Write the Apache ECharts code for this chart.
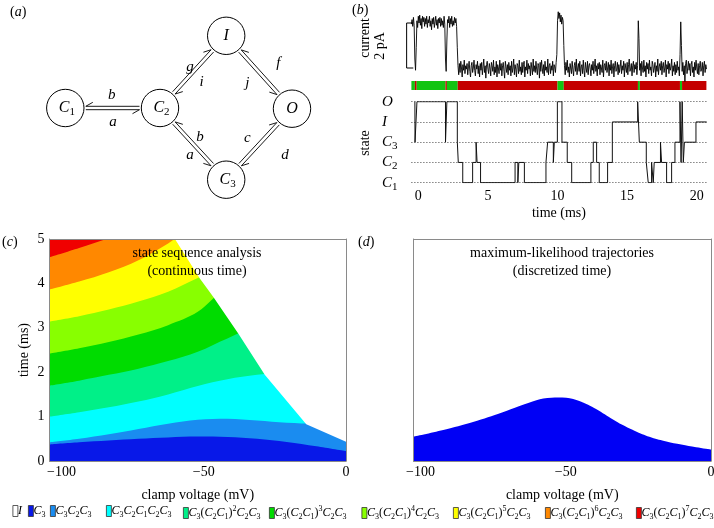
<!DOCTYPE html>
<html><head><meta charset="utf-8">
<script src="https://cdn.jsdelivr.net/npm/echarts@6/dist/echarts.min.js"></script>
<style>html,body{margin:0;padding:0;background:#fff}#c{width:714px;height:528px}</style>
</head><body><div id="c"></div>
<script>
// ================= DATA =================
// (b) current trace, sampled every 0.05 ms from -0.5 ms (pA)
const currentStart = -0.5, currentStep = 0.05;
const currentPA = [
 1.95,2.15,1.85,2.25,1.9,0.4,-0.1,0.9,2.1,1.8,2.3,2.0,2.35,1.9,2.2,1.75,2.3,2.05,2.25,1.85,
 2.2,1.95,2.3,1.8,2.15,2.0,2.3,1.85,2.1,1.7,2.2,1.95,2.25,1.8,2.05,2.3,1.9,2.15,1.75,2.2,
 2.0,2.25,1.85,2.2,1.9,2.1,1.8,2.3,1.95,0.4,-0.15,1.2,2.15,2.0,2.3,1.8,2.2,1.95,2.3,1.85,
 2.1,1.9,2.25,2.0,2.2,1.85,0.9,0.1,-0.3,0.2,-0.2,0.3,0.0,-0.4,0.15,-0.1,0.35,-0.25,0.1,-0.05,
 0.2,-0.3,0.05,0.3,-0.15,-0.4,0.1,0.25,-0.2,0.0,0.35,-0.1,-0.35,0.15,-0.05,0.3,-0.25,0.1,-0.4,0.2,
 -0.1,0.25,-0.3,0.05,0.4,-0.2,0.1,-0.45,0.15,0.3,-0.05,-0.25,0.2,0.0,-0.35,0.25,0.1,-0.15,0.35,-0.3,
 0.05,-0.2,0.3,-0.4,0.15,0.0,-0.25,0.35,-0.1,0.2,-0.35,0.1,0.25,-0.15,-0.45,0.3,0.05,-0.2,0.15,-0.3,
 0.25,-0.1,0.1,-0.35,0.3,-0.2,0.0,0.4,-0.3,0.15,-0.05,-0.4,0.2,0.1,-0.25,0.35,-0.15,0.05,-0.3,0.25,
 -0.2,0.15,0.3,-0.4,0.05,-0.1,0.35,-0.25,0.2,-0.05,0.1,-0.35,0.25,0.0,-0.3,0.4,-0.15,0.1,-0.2,0.3,
 -0.05,-0.3,0.2,0.1,-0.45,0.25,-0.15,0.35,0.0,-0.25,0.15,-0.35,0.3,-0.1,0.05,-0.2,0.4,-0.3,0.1,0.2,
 -0.25,0.1,-0.1,0.3,-0.35,0.15,0.05,-0.2,0.25,0.6,2.1,2.5,2.2,2.45,2.05,2.35,1.95,2.25,2.1,1.0,
 0.1,-0.3,0.25,-0.1,0.35,-0.2,0.05,-0.4,0.2,0.15,-0.25,0.3,-0.05,-0.35,0.1,0.25,-0.15,0.4,-0.3,0.0,
 0.2,-0.15,0.3,-0.35,0.05,0.15,-0.25,0.35,-0.1,-0.4,0.25,0.0,-0.2,0.3,-0.3,0.1,0.2,-0.05,-0.35,0.15,
 -0.1,0.3,-0.25,0.05,0.4,-0.15,0.1,-0.35,0.2,-0.05,0.25,-0.3,0.15,0.0,-0.2,0.35,-0.4,0.1,0.2,-0.1,
 0.3,-0.2,0.0,0.25,-0.35,0.15,-0.1,0.35,-0.25,0.05,0.2,-0.4,0.1,0.3,-0.15,-0.05,0.25,-0.3,0.15,-0.2,
 0.05,0.35,-0.25,0.1,-0.1,0.3,-0.4,0.2,0.0,-0.2,0.25,-0.3,0.15,0.4,-0.15,-0.05,0.2,-0.35,0.1,0.3,
 -0.2,0.15,-0.05,0.25,-0.3,0.1,2.1,1.3,-0.1,0.2,-0.35,0.3,0.0,-0.2,0.35,-0.15,0.1,-0.4,0.25,-0.05,
 0.2,-0.25,0.35,-0.1,0.05,-0.35,0.3,0.15,-0.2,0.0,0.25,-0.4,0.1,-0.15,0.4,-0.3,0.05,0.2,-0.1,0.3,
 -0.3,0.1,0.25,-0.2,0.0,0.35,-0.4,0.15,-0.05,0.3,-0.25,0.2,-0.1,0.05,0.4,-0.35,0.1,-0.15,0.25,-0.3,
 0.15,-0.2,0.3,-0.1,0.05,-0.35,0.6,2.05,1.0,-0.15,0.25,-0.3,0.1,-0.6,0.2,0.35,-0.25,0.0,0.3,-0.1,
 0.2,-0.35,0.15,0.3,-0.2,0.05,-0.4,0.25,-0.1,0.35,0.0,-0.25,0.2,-0.3,0.1,0.3,-0.15,-0.05,0.25,-0.35,
 0.1,0.3,-0.2,0.15,-0.05
];
const scaleBarPA = [0, 2];
// (b) state sequence: 0=C1, 1=C2, 2=C3, 3=I, 4=O
const stateNames = ['C_1','C_2','C_3','I','O'];
const stateTimes = [-0.25,-0.24,-0.10,1.95,2.05,2.80,2.87,3.19,3.90,4.15,4.22,4.47,6.95,7.15,7.22,7.62,
  9.17,9.29,9.70,9.77,9.99,10.32,10.70,11.02,12.40,12.57,12.81,13.00,13.60,13.94,15.76,15.88,16.38,16.52,
  16.76,16.88,16.95,17.40,17.48,17.84,18.20,18.44,18.80,18.88,18.96,19.04,19.12,19.95];
const stateValues = [4,2,4,2,4,2,1,0,1,2,1,0,1,0,1,0,
  1,2,1,2,4,2,1,0,1,2,1,0,1,3,4,2,1,0,
  1,0,1,2,1,0,1,2,4,1,4,1,2,3];
const stateEnd = 20.72;
// (b) conducting / non-conducting bar
const barStarts = [-0.5,-0.25,-0.12,1.95,2.05,2.83,10.0,10.45,15.78,15.92,18.8,18.95];
const barOpen   = [1,0,1,0,1,0,1,0,1,0,1,0];
const barEnd = 20.7;
const timeTicks = [0,5,10,15,20];

// (c) band boundaries (time, ms) vs clamp voltage (mV)
const voltage = [-100,-90,-80,-70,-60,-50,-40,-30,-20,-10,0];
const topC3        = [0.37,0.42,0.46,0.50,0.53,0.55,0.54,0.50,0.43,0.33,0.22];
const topC3C2C3    = [0.42,0.50,0.60,0.72,0.84,0.93,0.95,0.91,0.86,0.84,0.84];
const topC3C2C1C2C3= [1.00,1.10,1.21,1.34,1.50,1.69,1.84,1.94,1.98,2.00,2.00];
const topPow2      = [1.70,1.81,1.94,2.08,2.25,2.46,2.76,3.00,3.00,3.00,3.00];
const topPow3      = [2.42,2.54,2.68,2.85,3.06,3.36,3.90,4.00,4.00,4.00,4.00];
const topPow4      = [3.14,3.26,3.41,3.59,3.81,4.12,4.40,4.50,4.50,4.50,4.50];
const topPow5      = [3.86,4.04,4.25,4.52,4.90,5.30,5.30,5.30,5.30,5.30,5.30];
const topPow6      = [4.59,4.80,5.02,5.30,5.30,5.30,5.30,5.30,5.30,5.30,5.30];
const topPow7      = [5,5,5,5,5,5,5,5,5,5,5];
// (c) boundary of the I region (upper right, white)
const iVoltage = [-57.7,-49.3,-44.8,-36.4,-27.4,-13.4,0];
const iTime    = [5.0,4.11,3.70,2.88,1.94,0.83,0.435];
// (d) maximum-likelihood C3 region
const dVoltage = [-100,-90,-80,-70,-60,-55,-50,-45,-40,-35,-30,-25,-20,-15,-10,-5,0];
const dTime    = [0.55,0.70,0.88,1.10,1.34,1.42,1.43,1.37,1.22,1.02,0.82,0.66,0.53,0.44,0.37,0.31,0.26];

// legend names (markup: _ subscript, ^ superscript)
const bandNames = ['C_3','C_3C_2C_3','C_3C_2C_1C_2C_3','C_3(C_2C_1)^2C_2C_3','C_3(C_2C_1)^3C_2C_3',
  'C_3(C_2C_1)^4C_2C_3','C_3(C_2C_1)^5C_2C_3','C_3(C_2C_1)^6C_2C_3','C_3(C_2C_1)^7C_2C_3'];
const bandTops = [topC3, topC3C2C3, topC3C2C1C2C3, topPow2, topPow3, topPow4, topPow5, topPow6, topPow7];

// ================= STYLE =================
const SERIF = "'Liberation Serif','DejaVu Serif','Times New Roman',serif";
const bandColors = ['#0818e8','#1a8cf0','#00ffff','#00f088','#00dc00','#88ff00','#ffff00','#ff8800','#f00000'];
const dColor = '#0000f5';
const frameColor = '#8a8a8a';
const legendX = [12.5,28,50,106,183,269,361.5,453,545,636];

function richName(s){
  let out='';
  for(let i=0;i<s.length;i++){
    const ch=s[i];
    if(ch==='_'){out+='{s|'+s[++i]+'}';}
    else if(ch==='^'){out+='{u|'+s[++i]+'}';}
    else if(ch==='('||ch===')'){out+='{p|'+ch+'}';}
    else out+='{m|'+ch+'}';
  }
  return out;
}
function richStyles(size){
  const sub=Math.round(size*0.7);
  return {
    m:{fontFamily:SERIF,fontStyle:'italic',fontSize:size,lineHeight:size+4,color:'#000'},
    p:{fontFamily:SERIF,fontSize:size,lineHeight:size+4,color:'#000'},
    s:{fontFamily:SERIF,fontSize:sub,lineHeight:sub,verticalAlign:'bottom',color:'#000'},
    u:{fontFamily:SERIF,fontSize:sub,lineHeight:sub,verticalAlign:'top',color:'#000'}
  };
}
const minus = v => String(v).replace('-', '\u2212');

// ================= LAYOUT =================
const G_C = {left:49.5, top:239, width:296.5, height:222};
const G_D = {left:413.5, top:239, width:297.5, height:222};
const G_CUR = {left:404.4, top:9.5, width:302.1, height:72};
const G_BAR = {left:411.4, top:81, width:295, height:9};
const G_ST = {left:411.4, top:101.7, width:295, height:81};

function frameAxis(gridIndex, isX){
  return {gridIndex, type:'value', min: isX?-100:0, max: isX?0:5, position: isX?'top':'right', z:10,
     axisLine:{show:true,onZero:false,lineStyle:{color:frameColor,width:1}}, axisTick:{show:false},
     axisLabel:{show:false}, splitLine:{show:false}};
}
const voltAxis = (gridIndex, shifts) => ({
  gridIndex, type:'value', min:-100, max:0, interval:50, position:'bottom', z:10,
  axisLine:{show:true,onZero:false,lineStyle:{color:frameColor,width:1}}, axisTick:{show:false},
  splitLine:{show:false},
  axisLabel:{margin:4, formatter: v => '{t'+Math.abs(v)+'|'+minus(v)+'}',
    rich:{
      t100:{fontFamily:SERIF,fontSize:14,color:'#000',padding:[0,0,0,shifts[0]]},
      t50:{fontFamily:SERIF,fontSize:14,color:'#000',padding:[0,0,0,shifts[1]]},
      t0:{fontFamily:SERIF,fontSize:14,color:'#000'}
    }},
  name:'clamp voltage (mV)', nameLocation:'middle', nameGap:27,
  nameTextStyle:{fontFamily:SERIF, fontSize:14, color:'#000'}
});

// ================= DIAGRAM (a) =================
const nodes = {C1:[65.3,108], C2:[160,108], I:[226.2,35.8], O:[292,108.7], C3:[226.2,179.7]};
const R = 18.7;
const pairs = [
  ['C1','C2',1],['C2','I',-1],['I','O',1],['C2','C3',1],['C3','O',-1]
];
const arrowLabels = [
  ['b',111.7,95],['a',113,122.5],['g',190,66.7],['i',201.7,81.7],['f',278.3,63.3],['j',247.3,83.3],
  ['b',200,136.7],['a',190,155],['c',247.3,138.3],['d',285,155]
];
const graphics = [];
pairs.forEach(([a,b,s])=>{
  const A=nodes[a], B=nodes[b];
  const dx=B[0]-A[0], dy=B[1]-A[1], L=Math.hypot(dx,dy), ux=dx/L, uy=dy/L, nx=-uy, ny=ux;
  const off=1.7, gap=R+1.8, bl=7, bw=4;
  const P=(base,k,side)=>[base[0]+ux*k+nx*off*side, base[1]+uy*k+ny*off*side];
  const p0=P(A,gap,s), p1=P(B,-gap,s);
  const fb=[p1[0]-ux*bl+nx*s*bw, p1[1]-uy*bl+ny*s*bw];
  const q0=P(A,gap,-s), q1=P(B,-gap,-s);
  const bb=[q0[0]+ux*bl-nx*s*bw, q0[1]+uy*bl-ny*s*bw];
  graphics.push({type:'polyline',silent:true,shape:{points:[p0,p1,fb]},style:{stroke:'#000',lineWidth:0.9,fill:null}});
  graphics.push({type:'polyline',silent:true,shape:{points:[q1,q0,bb]},style:{stroke:'#000',lineWidth:0.9,fill:null}});
});
const nodeText = {C1:'{m|C}{s|1}', C2:'{m|C}{s|2}', I:'{m|I}', O:'{m|O}', C3:'{m|C}{s|3}'};
Object.keys(nodes).forEach(k=>{
  const c=nodes[k];
  graphics.push({type:'circle',silent:true,shape:{cx:c[0],cy:c[1],r:R},style:{stroke:'#000',lineWidth:1,fill:'#fff'}});
  graphics.push({type:'text',silent:true,x:c[0]+(k.length>1?1.5:0),y:c[1],z:5,
    style:{text:nodeText[k],rich:richStyles(16),align:'center',verticalAlign:'middle'}});
});
arrowLabels.forEach(([t,x,y])=>{
  graphics.push({type:'text',silent:true,x,y,style:{text:t,font:'italic 15px '+SERIF,fill:'#000',align:'center',verticalAlign:'middle'}});
});
// panel letters
[['a',10,12],['b',352,10],['c',2,242],['d',358,242]].forEach(([l,x,y])=>{
  graphics.push({type:'text',silent:true,x,y,style:{text:'{p|(}{m|'+l+'}{p|)}',rich:richStyles(14),align:'left',verticalAlign:'middle'}});
});
// panel (b) axis texts
graphics.push({type:'text',silent:true,x:365,y:38,rotation:Math.PI/2,style:{text:'current',font:'14px '+SERIF,fill:'#000',align:'center',verticalAlign:'middle'}});
graphics.push({type:'text',silent:true,x:380,y:46,rotation:Math.PI/2,style:{text:'2 pA',font:'14px '+SERIF,fill:'#000',align:'center',verticalAlign:'middle'}});
graphics.push({type:'text',silent:true,x:365,y:143,rotation:Math.PI/2,style:{text:'state',font:'14px '+SERIF,fill:'#000',align:'center',verticalAlign:'middle'}});
// panel titles
[['state sequence analysis',197,253],['(continuous time)',197,271],
 ['maximum-likelihood trajectories',562,253],['(discretized time)',562,271]].forEach(([t,x,y])=>{
  graphics.push({type:'text',silent:true,x,y,z:50,style:{text:t,font:'14px '+SERIF,fill:'#000',align:'center',verticalAlign:'middle'}});
});

// ================= SERIES =================
const series = [];
for(let k=bandNames.length-1;k>=0;k--){
  series.push({name:bandNames[k], type:'line', xAxisIndex:0, yAxisIndex:0, symbol:'none', smooth:0.35,
    data: voltage.map((v,i)=>[v,bandTops[k][i]]), lineStyle:{width:0}, itemStyle:{color:bandColors[k]},
    areaStyle:{color:bandColors[k],opacity:1,origin:'start'}, silent:true, z:2});
}
series.push({name:'I', type:'line', xAxisIndex:0, yAxisIndex:0, symbol:'none',
  data: iVoltage.map((v,i)=>[v,iTime[i]]), lineStyle:{width:0}, itemStyle:{color:'#fff'},
  areaStyle:{color:'#fff',opacity:1,origin:'end'}, silent:true, z:3});
series.push({name:'C_3', type:'line', xAxisIndex:2, yAxisIndex:2, symbol:'none', smooth:0.4,
  data: dVoltage.map((v,i)=>[v,dTime[i]]), lineStyle:{width:0}, itemStyle:{color:dColor},
  areaStyle:{color:dColor,opacity:1,origin:'start'}, silent:true, z:2});
series.push({name:'current', type:'line', xAxisIndex:4, yAxisIndex:4, symbol:'none',
  data: currentPA.map((v,i)=>[currentStart+i*currentStep, v]), lineStyle:{color:'#000',width:0.9}, silent:true});
series.push({name:'scalebar', type:'line', xAxisIndex:4, yAxisIndex:4, symbol:'none',
  data:[[-0.36,scaleBarPA[0]],[-0.84,scaleBarPA[0]],[-0.84,scaleBarPA[1]],[-0.36,scaleBarPA[1]]],
  lineStyle:{color:'#000',width:1}, silent:true});
series.push({name:'bar', type:'custom', xAxisIndex:5, yAxisIndex:5, silent:true,
  data: barStarts.map((s,i)=>[s, i<barStarts.length-1?barStarts[i+1]:barEnd, barOpen[i]]),
  encode:{x:[0,1]},
  renderItem:(params,api)=>{
    const a=api.coord([api.value(0),0]), b=api.coord([api.value(1),1]);
    return {type:'rect',shape:{x:a[0],y:b[1],width:b[0]-a[0],height:a[1]-b[1]},
      style:{fill: api.value(2)?'#12c412':'#c40000'}};
  }});
const stData = stateTimes.map((t,i)=>[t,stateValues[i]]);
stData.push([stateEnd, stateValues[stateValues.length-1]]);
series.push({name:'state', type:'line', xAxisIndex:6, yAxisIndex:6, symbol:'none', step:'end',
  data: stData, lineStyle:{color:'#111',width:1}, silent:true, z:5});

// ================= LEGEND =================
const legendNames = ['I'].concat(bandNames);
const legendColors = ['#ffffff'].concat(bandColors);
const legends = legendNames.map((n,i)=>({
  show:true, left:legendX[i], top:505, padding:0, selectedMode:false, itemGap:0,
  icon:'rect', itemWidth:5, itemHeight:11,
  data:[{name:n, itemStyle:{color:legendColors[i], borderColor:'#333', borderWidth:0.8}}],
  formatter: name => richName(name),
  textStyle:{rich:richStyles(12), padding:[0,0,0,-5]}
}));

const option = {
  animation:false,
  backgroundColor:'#fff',
  grid:[G_C,G_D,G_CUR,G_BAR,G_ST].map(g=>Object.assign({containLabel:false, outerBoundsMode:'none', show:false}, g)),
  legend: legends,
  xAxis:[
    voltAxis(0,[24,12]),
    frameAxis(0,true),
    voltAxis(1,[14,7]),
    frameAxis(1,true),
    {gridIndex:2, type:'value', min:-1.0, max:20.7, show:false},
    {gridIndex:3, type:'value', min:-0.5, max:20.7, show:false},
    {gridIndex:4, type:'value', min:-0.5, max:20.7,
     axisLine:{show:false}, axisTick:{show:false}, splitLine:{show:false},
     axisLabel:{customValues:timeTicks, margin:7, fontFamily:SERIF, fontSize:14, color:'#000'},
     name:'time (ms)', nameLocation:'middle', nameGap:24,
     nameTextStyle:{fontFamily:SERIF, fontSize:14, color:'#000'}}
  ],
  yAxis:[
    {gridIndex:0, type:'value', min:0, max:5, interval:1, z:10,
     axisLine:{show:true,onZero:false,lineStyle:{color:frameColor,width:1}}, axisTick:{show:false}, splitLine:{show:false},
     axisLabel:{margin:5, fontFamily:SERIF, fontSize:14, color:'#000'},
     name:'time (ms)', nameLocation:'middle', nameGap:18,
     nameTextStyle:{fontFamily:SERIF, fontSize:14, color:'#000'}},
    frameAxis(0,false),
    {gridIndex:1, type:'value', min:0, max:5, interval:1, z:10,
     axisLine:{show:true,onZero:false,lineStyle:{color:frameColor,width:1}}, axisTick:{show:false}, splitLine:{show:false},
     axisLabel:{show:false}},
    frameAxis(1,false),
    {gridIndex:2, type:'value', min:-0.6, max:2.6, show:false},
    {gridIndex:3, type:'value', min:0, max:1, show:false},
    {gridIndex:4, type:'value', min:0, max:4, interval:1,
     axisLine:{show:false}, axisTick:{show:false},
     splitLine:{show:true, lineStyle:{color:'#444', type:[1,2], width:1}},
     axisLabel:{align:'left', margin:29.5, formatter: v => richName(stateNames[v]), rich:richStyles(15)}}
  ],
  graphic:{elements:graphics},
  series
};
const chart = echarts.init(document.getElementById('c'), null, {renderer:'canvas'});
chart.setOption(option);
</script></body></html>
